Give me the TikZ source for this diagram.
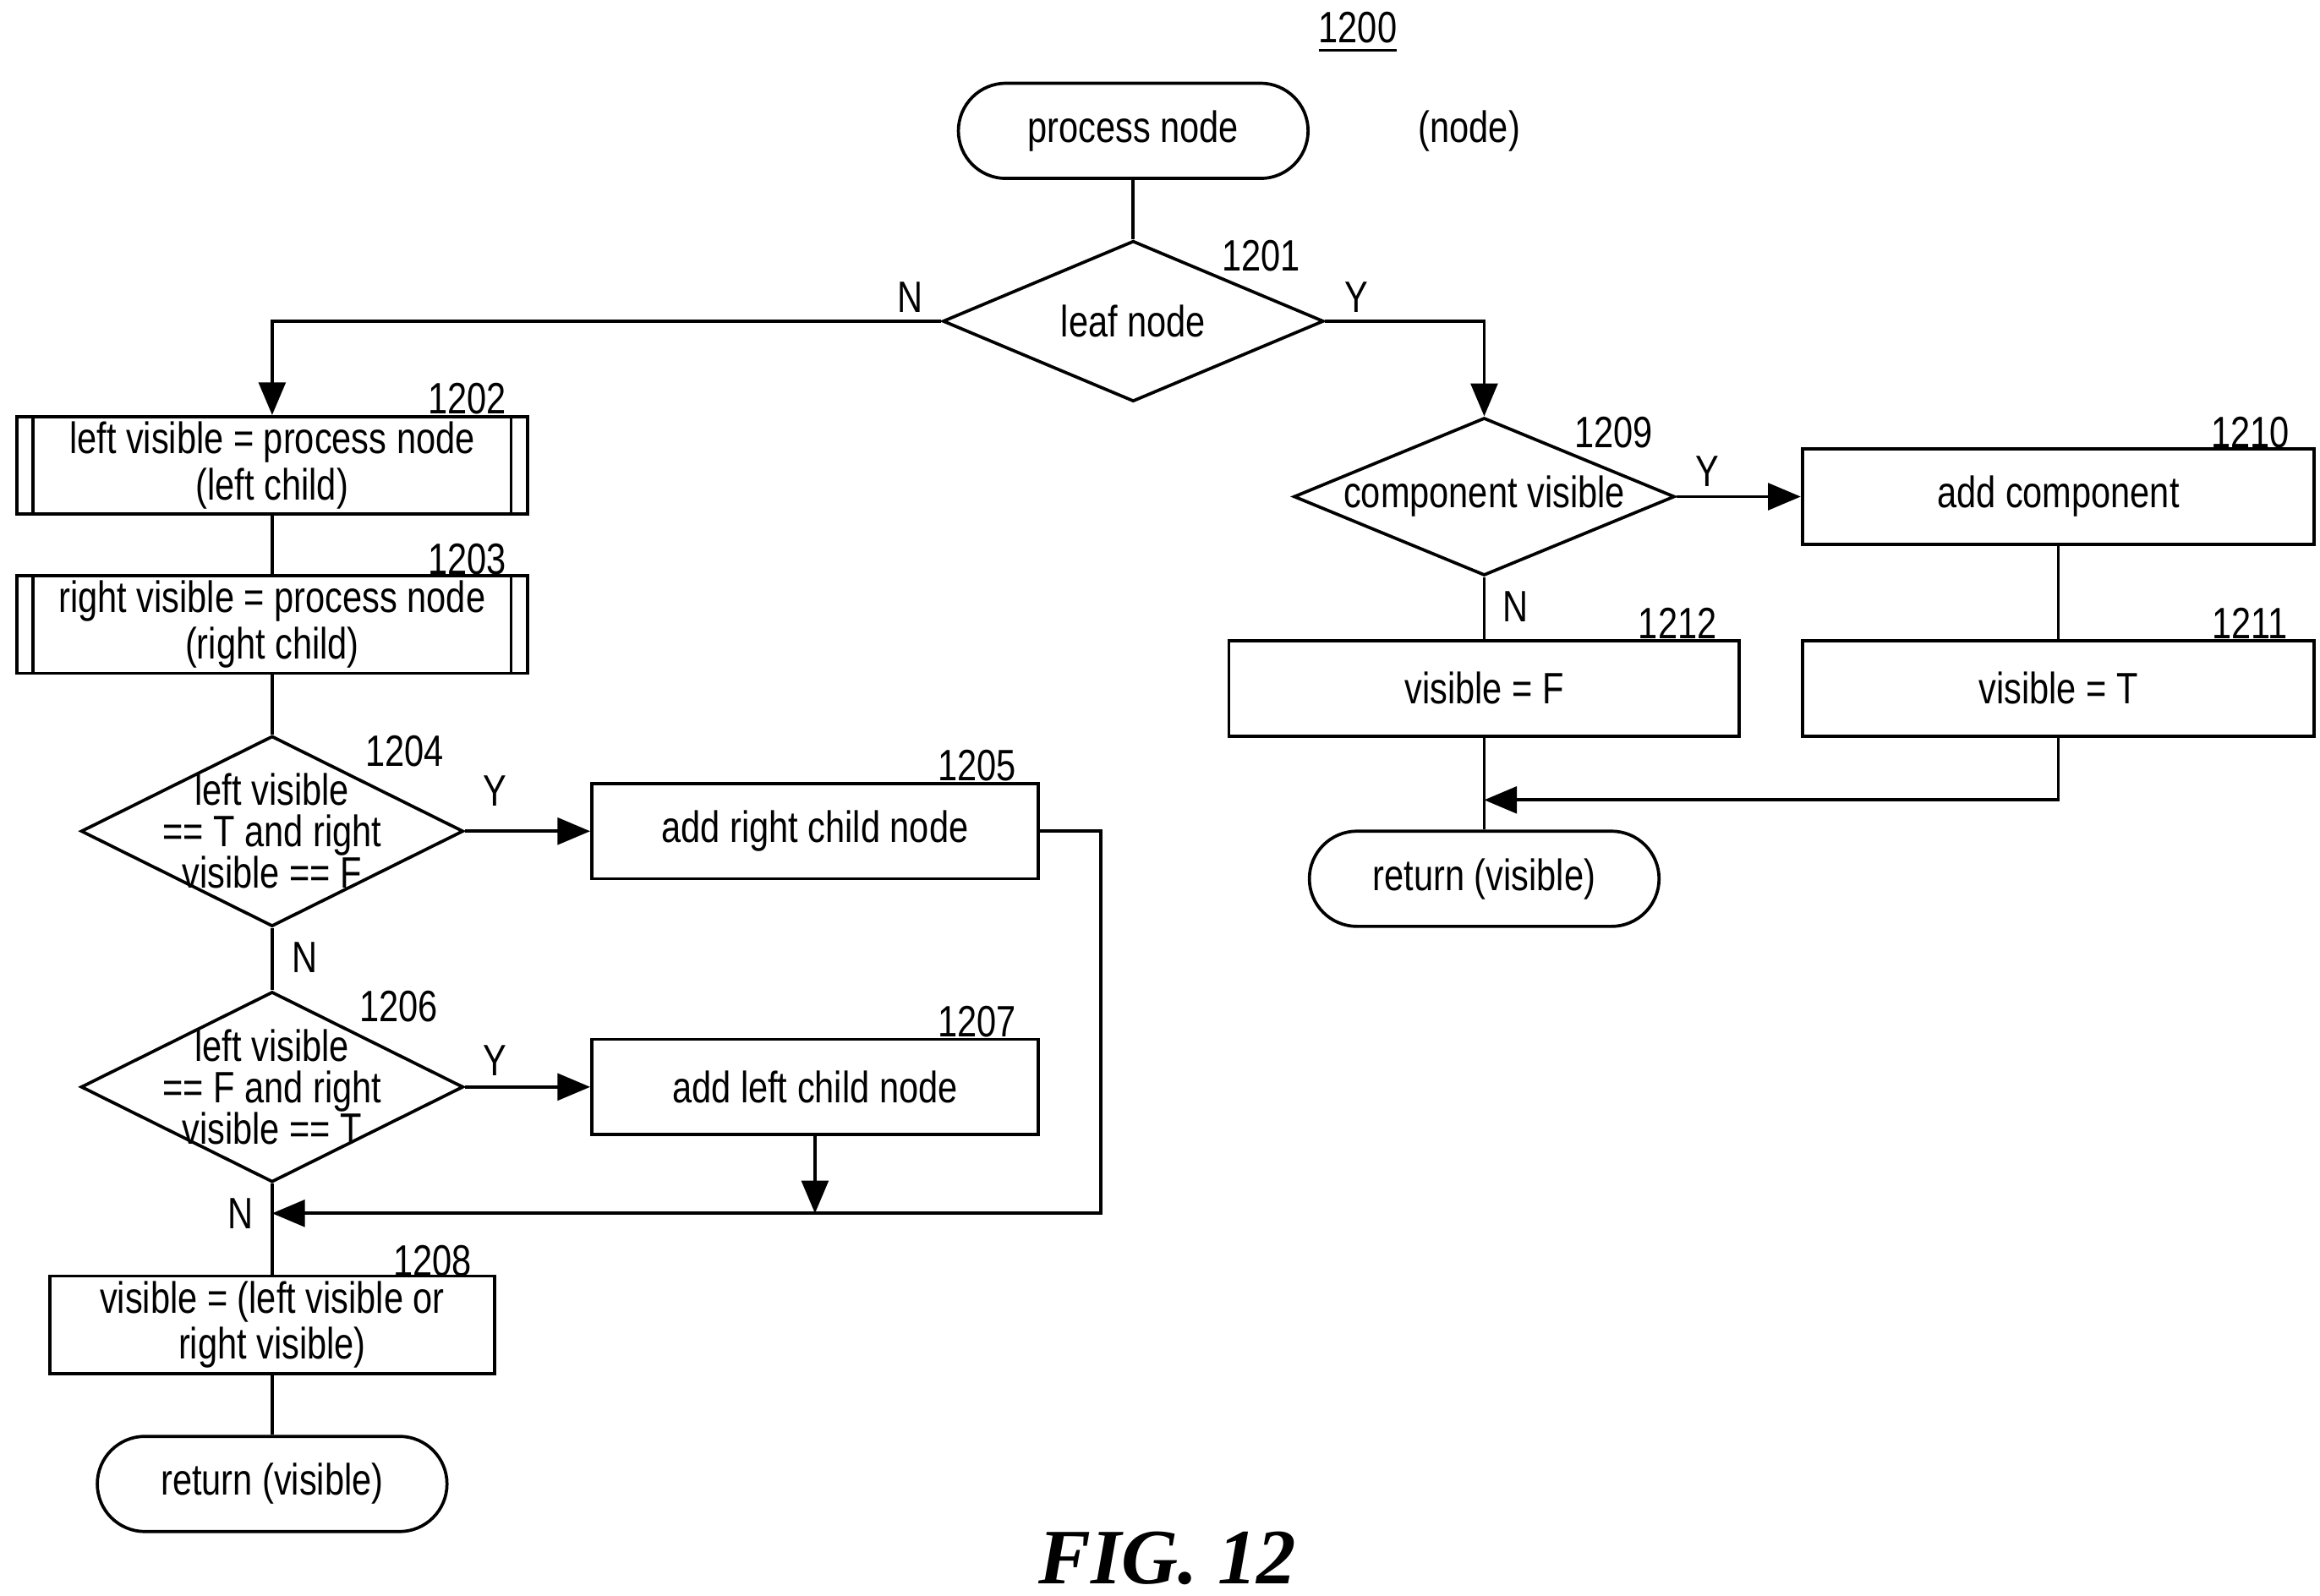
\documentclass[tikz,border=0pt]{standalone}
\usepackage{fontspec}
\setmainfont{Liberation Sans}[FakeStretch=0.8]
\newfontfamily\figfont{Liberation Serif}
\usetikzlibrary{shapes.geometric,arrows.meta}

\begin{document}
\begin{tikzpicture}[x=0.01cm, y=-0.01cm, semithick, >={Triangle[length=2.2mm,width=1.8mm]},
font=\fontsize{8.4}{6.9}\selectfont,
term/.style ={rounded rectangle, draw, minimum width=2.35cm, minimum height=0.64cm},
box/.style ={rectangle, draw, minimum height=0.64cm, align=center, inner sep=1pt},
dec/.style ={diamond, draw, inner sep=0pt},
dectext/.style ={align=center, font=\fontsize{8.4}{7.9}\selectfont},
num/.style ={inner sep=1pt}]
\useasboundingbox (0,0) rectangle (1560,1073);
\tikzset{rounded rectangle/.style={rectangle, rounded corners=3.2mm}}

\node[num] at (913,22) {\underline{1200}};
\node[term] (start) at (762,88) {process node};
\node at (988,88) {(node)};

\node[dec, minimum width=2.56cm, minimum height=1.08cm] (d1201) at (762,216) {};
\node at (d1201) {leaf node};
\node[num] at (848,172) {1201};

\node[box, minimum width=3.43cm] (b1202) at (183,313) {left visible = process node\\(left child)};
\node[num] at (314,268) {1202};
\node[box, minimum width=3.43cm] (b1203) at (183,420) {right visible = process node\\(right child)};
\node[num] at (314,376) {1203};

\node[dec, minimum width=2.57cm, minimum height=1.28cm] (d1204) at (183,559) {};
\node[dectext] at (d1204) {left visible\\== T and right\\visible == F};
\node[num] at (272,505) {1204};
\node[box, minimum width=3.0cm] (b1205) at (548,559) {add right child node};
\node[num] at (657,515) {1205};

\node[dec, minimum width=2.57cm, minimum height=1.28cm] (d1206) at (183,731) {};
\node[dectext] at (d1206) {left visible\\== F and right\\visible == T};
\node[num] at (268,677) {1206};
\node[box, minimum width=3.0cm] (b1207) at (548,731) {add left child node};
\node[num] at (657,687) {1207};

\coordinate (m) at (183,816);
\node[box, minimum width=2.99cm] (b1208) at (183,891) {visible = (left visible or\\right visible)};
\node[num] at (291,848) {1208};
\node[term] (ret1) at (183,998) {return (visible)};

\node[dec, minimum width=2.56cm, minimum height=1.06cm] (d1209) at (998,334) {};
\node at (d1209) {component visible};
\node[num] at (1085,291) {1209};
\node[box, minimum width=3.44cm] (b1210) at (1384,334) {add component};
\node[num] at (1513,291) {1210};
\node[box, minimum width=3.44cm] (b1211) at (1384,463) {visible = T};
\node[num] at (1513,419) {1211};
\node[box, minimum width=3.43cm] (b1212) at (998,463) {visible = F};
\node[num] at (1128,419) {1212};
\node[term] (ret2) at (998,591) {return (visible)};

\foreach \b in {b1202,b1203} {
  \draw ([xshift=1.2mm]\b.north west) -- ([xshift=1.2mm]\b.south west);
  \draw ([xshift=-1.2mm]\b.north east) -- ([xshift=-1.2mm]\b.south east);
}

\draw (start) -- (d1201);
\draw[->] (d1201.west) -| (b1202.north);
\draw[->] (d1201.east) -| (d1209.north);
\node at (612,200) {N};
\node at (912,200) {Y};
\draw (b1202) -- (b1203);
\draw (b1203) -- (d1204);
\draw[->] (d1204.east) -- (b1205.west);
\node at (333,532) {Y};
\draw (d1204) -- (d1206);
\node at (205,644) {N};
\draw[->] (d1206.east) -- (b1207.west);
\node at (333,713) {Y};
\draw[->] (b1205.east) -- (740,559) |- (m);
\draw[->] (b1207.south) -- (548,816);
\draw (d1206.south) -- (b1208.north);
\node at (162,816) {N};
\draw (b1208) -- (ret1);

\draw[->] (d1209.east) -- (b1210.west);
\node at (1148,317) {Y};
\draw (d1209.south) -- (b1212.north);
\node at (1019,408) {N};
\draw (b1210) -- (b1211);
\draw[->] (b1211.south) |- (998,538);
\draw (b1212) -- (ret2);

\node at (785,1048) {\figfont\fontsize{15}{15}\selectfont\bfseries\itshape FIG. 12};
\end{tikzpicture}
\end{document}
